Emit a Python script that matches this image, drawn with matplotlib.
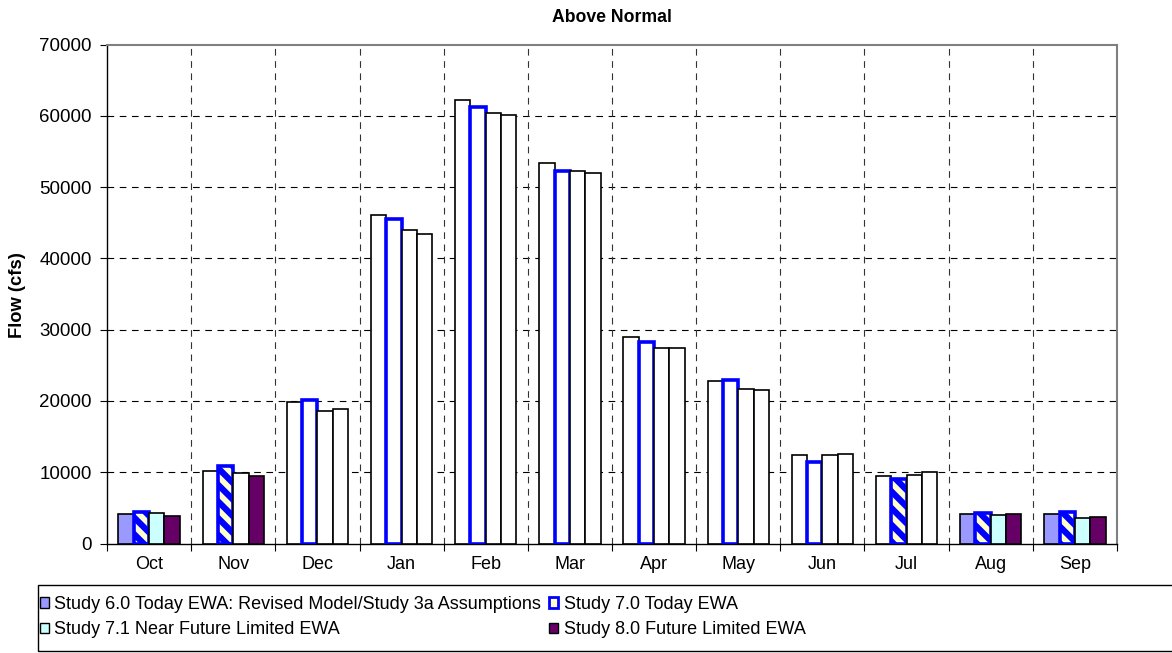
import matplotlib
matplotlib.use('Agg')
import matplotlib.pyplot as plt
from matplotlib.patches import Patch, Rectangle
import numpy as np

plt.rcParams['font.family'] = ['Liberation Sans', 'DejaVu Sans']
plt.rcParams['hatch.linewidth'] = 4.5

# ---------------- data ----------------
months = ['Oct', 'Nov', 'Dec', 'Jan', 'Feb', 'Mar', 'Apr', 'May', 'Jun', 'Jul', 'Aug', 'Sep']
study_60 = [4070, 10240, 19820, 46070, 62150, 53350, 28960, 22800, 12380, 9400, 4070, 4070]
study_70 = [4390, 10940, 20100, 45460, 61260, 52280, 28320, 22900, 11400, 9020, 4250, 4350]
study_71 = [4250, 9860, 18550, 43970, 60370, 52190, 27420, 21680, 12380, 9620, 4010, 3550]
study_80 = [3830, 9400, 18920, 43350, 60180, 51950, 27420, 21500, 12620, 10100, 4070, 3650]
series_labels = ['Study 6.0 Today EWA: Revised Model/Study 3a Assumptions',
                 'Study 7.0 Today EWA',
                 'Study 7.1 Near Future Limited EWA',
                 'Study 8.0 Future Limited EWA']
y_ticks = [0, 10000, 20000, 30000, 40000, 50000, 60000, 70000]
title = 'Above Normal'
y_label = 'Flow (cfs)'

# months in which each series is drawn with its coloured fill (others are plain white)
filled_months = [
    ['Oct', 'Aug', 'Sep'],
    ['Oct', 'Nov', 'Jul', 'Aug', 'Sep'],
    ['Oct', 'Aug', 'Sep'],
    ['Oct', 'Nov', 'Aug', 'Sep'],
]

# ---------------- styles ----------------
fill_colors = ['#9999FF', '#FFFFCC', '#CCFFFF', '#660066']
edge_colors = ['black', '#0000FF', 'black', 'black']
edge_widths = [1.2, 2.6, 1.2, 1.2]
hatches = [None, '\\\\', None, None]

W, H = 1172, 653
fig = plt.figure(figsize=(W / 100, H / 100), dpi=100)
ax_left, ax_right, ax_top, ax_bottom = 107, 1117, 44.5, 543.5
ax = fig.add_axes([ax_left / W, 1 - ax_bottom / H, (ax_right - ax_left) / W, (ax_bottom - ax_top) / H])

n = len(months)
x = np.arange(n) + 0.5
bw = 1 / 5.5
all_series = [study_60, study_70, study_71, study_80]
for j, vals in enumerate(all_series):
    bars = ax.bar(x + (j - 1.5) * bw, vals, width=bw, zorder=3,
                  edgecolor=edge_colors[j], linewidth=edge_widths[j])
    for m, p in zip(months, bars.patches):
        if m in filled_months[j]:
            p.set_facecolor(fill_colors[j])
            if hatches[j]:
                p.set_hatch(hatches[j])
        else:
            p.set_facecolor('white')

ax.set_xlim(0, n)
ax.set_ylim(0, 70000)

# grid
for yv in y_ticks[1:-1]:
    ax.axhline(yv, color='black', lw=0.8, ls=(0, (6, 5)), zorder=1)
for xv in range(1, n):
    ax.axvline(xv, color='#333333', lw=0.8, ls=(0, (6, 5)), zorder=1)

# ticks
ax.set_yticks(y_ticks)
ax.set_yticklabels([str(v) for v in y_ticks])
ax.set_xticks(np.arange(n + 1))
ax.set_xticklabels([''] * (n + 1))
ax.set_xticks(x, minor=True)
ax.set_xticklabels(months, minor=True)
ax.tick_params(axis='x', which='major', direction='out', length=5, width=0.8)
ax.tick_params(axis='x', which='minor', length=0, pad=9, labelsize=13)
ax.tick_params(axis='y', direction='out', length=5, width=0.8, labelsize=13.5, pad=6)

for s in ['left', 'bottom']:
    ax.spines[s].set_color('black')
    ax.spines[s].set_linewidth(1.0)
for s in ['top', 'right']:
    ax.spines[s].set_color('#808080')
    ax.spines[s].set_linewidth(1.5)

fig.text(612 / W, 1 - 18 / H, title, ha='center', va='center', fontsize=12.7, fontweight='bold')
fig.text(18 / W, 1 - 295 / H, y_label, ha='center', va='center', rotation=90, fontsize=13.2, fontweight='bold')

# legend
handles = [Patch(facecolor=fill_colors[j], edgecolor=edge_colors[j],
                 linewidth=(1.0 if j != 1 else 2.0)) for j in range(4)]
order = [0, 2, 1, 3]
leg = fig.legend([handles[i] for i in order], [series_labels[i] for i in order],
                 loc='upper left', bbox_to_anchor=(40 / W, 1 - 596 / H), ncol=2,
                 frameon=False, fontsize=13, handlelength=0.5, handleheight=0.5,
                 handletextpad=0.3, columnspacing=0.45, borderaxespad=0, borderpad=0,
                 labelspacing=0.45)
fig.patches.append(Rectangle((38 / W, 1 - 651 / H), 1.1, (651 - 585) / H,
                             transform=fig.transFigure, facecolor='none',
                             edgecolor='black', linewidth=1.0))

fig.savefig('out.png', dpi=100)
